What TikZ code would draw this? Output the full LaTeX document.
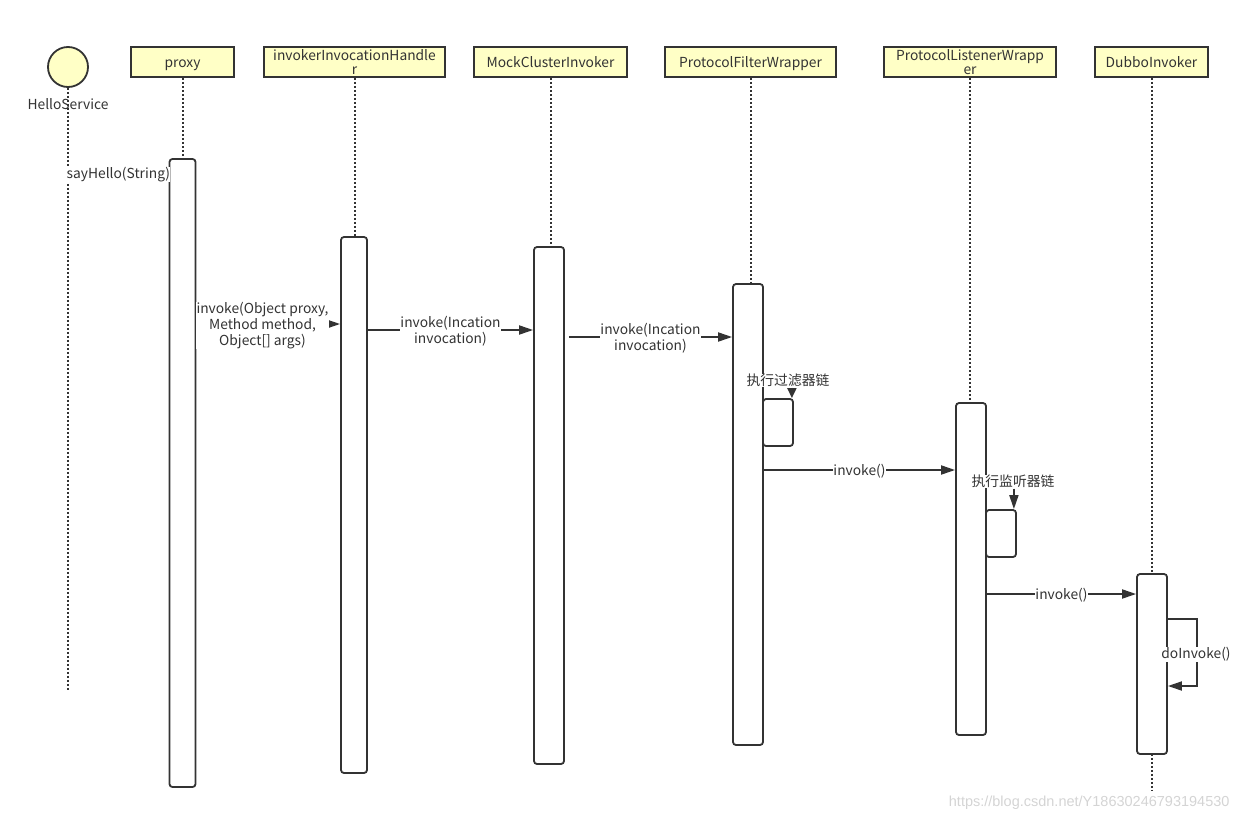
\documentclass[tikz,border=0pt]{standalone}
\usepackage{fontspec}
\setmainfont{Noto Sans CJK SC}
\newfontfamily\markfont{Liberation Sans}
\usepackage{tikz}
\usepackage{xcolor}
\usetikzlibrary{positioning}
\usetikzlibrary{arrows.meta}
\usetikzlibrary{math}
\usetikzlibrary{calc}

\definecolor{umlyellow}{HTML}{FFFFC6}
\definecolor{umlline}{HTML}{333333}
\definecolor{markgray}{HTML}{D4D4D4}

\tikzset{
  objbox/.style={draw=umlline, fill=umlyellow, line width=1.8pt, minimum height=30pt,
    inner sep=0pt, align=center, text=umlline, font=\fontsize{13.8}{14.5}\selectfont},
  oneline/.style={text height=12pt, text depth=1pt},
  lifeline/.style={draw=umlline, line width=2pt, dash pattern=on 2pt off 2pt},
  activation/.style={draw=umlline, fill=white, line width=1.8pt, rounded corners=3pt,
    minimum width=30pt, inner sep=0pt},
  msg/.style={draw=umlline, line width=1.8pt, -{Triangle[length=14pt,width=9pt]}},
  msglabel/.style={fill=white, inner sep=0.5pt, align=center, text=umlline,
    font=\fontsize{13.8}{16}\selectfont, yshift=-1.5pt},
}

\begin{document}
\begin{tikzpicture}[x=1pt,y=-1pt]

  \tikzmath{
    \boxy = 62;  % centre line of the object boxes
  }

  \useasboundingbox (0,0) rectangle (1240,822);

  % objects
  \node[circle, draw=umlline, fill=umlyellow, line width=1.8pt, minimum size=40pt,
    inner sep=0pt] (hello) at (68,67) {};
  \node[text=umlline, font=\fontsize{13.8}{14.5}\selectfont] (helloname) at (68,104) {HelloService};
  \node[objbox, oneline, minimum width=103pt] (proxy) at (182.5,\boxy) {proxy};
  \node[objbox, minimum width=181pt] (handler)  at (354.5,\boxy) {invokerInvocationHandle\\r};
  \node[objbox, oneline, minimum width=153pt] (mock)   at (550.5,\boxy) {MockClusterInvoker};
  \node[objbox, oneline, minimum width=171pt] (filter) at (750.5,\boxy) {ProtocolFilterWrapper};
  \node[objbox, minimum width=172pt] (listener) at (970,\boxy)   {ProtocolListenerWrapp\\er};
  \node[objbox, oneline, minimum width=113pt] (dubbo)  at (1151.5,\boxy) {DubboInvoker};

  % ends of the lifelines
  \coordinate (helloend) at (68,690);
  \coordinate (dubboend) at (1151.5,790);

  \draw[lifeline] (hello.south) -- (helloend);
  \draw[lifeline] (proxy.south) -- ++(0,80);
  \draw[lifeline] (handler.south) -- ++(0,158);
  \draw[lifeline] (mock.south) -- ++(0,168);
  \draw[lifeline] (filter.south) -- ++(0,205);
  \draw[lifeline] (listener.south) -- ++(0,324);
  \draw[lifeline] (dubbo.south) -- (dubboend);

  % activations
  \node[activation, minimum width=26pt, minimum height=628pt] (actproxy)    at (182.5,473) {};
  \node[activation, minimum width=26pt, minimum height=536pt] (acthandler)  at (354,505) {};
  \node[activation, minimum height=517pt] (actmock)     at (549,505.5) {};
  \node[activation, minimum height=461pt] (actfilter)   at (748,514.5) {};
  \node[activation, minimum height=47pt]  (selffilter)  at (778,422.5) {};
  \node[activation, minimum height=332pt] (actlistener) at (971,569) {};
  \node[activation, minimum height=47pt]  (selflistener) at (1001,533.5) {};
  \node[activation, minimum height=180pt] (actdubbo)    at (1152,664) {};

  % messages
  \coordinate (m1) at (0,173);
  \coordinate (m2) at (0,324);
  \coordinate (m3) at (0,330);
  \coordinate (m4) at (0,337);
  \coordinate (m5) at (0,470);
  \coordinate (m6) at (0,594);

  \draw[msg] (helloend |- m1) -- (actproxy.west |- m1)
    node[msglabel, midway] (sayhello) {sayHello(String)};
  \draw[msg] (actproxy.east |- m2) -- (acthandler.west |- m2)
    node[msglabel, pos=0.46] (invoke1) {invoke(Object proxy,\\Method method,\\Object[] args)};
  \draw[msg] (acthandler.east |- m3) -- (actmock.west |- m3)
    node[msglabel, midway] (invoke2) {invoke(Incation\\invocation)};
  \draw[msg] ([xshift=4pt]actmock.east |- m4) -- (actfilter.west |- m4)
    node[msglabel, midway] (invoke3) {invoke(Incation\\invocation)};
  \draw[msg] (actfilter.east |- m5) -- (actlistener.west |- m5)
    node[msglabel, midway] (invoke4) {invoke()};
  \draw[msg] (actlistener.east |- m6) -- (actdubbo.west |- m6)
    node[msglabel, midway] (invoke5) {invoke()};

  % self calls
  \node[msglabel] (chainfilter) at (788,379) {执行过滤器链};
  \coordinate (f1) at ([xshift=-2pt]selffilter.north east);
  \draw[msg, -{Triangle[length=10pt,width=9pt]}] (chainfilter.south -| f1) -- (f1);

  \node[msglabel] (chainlistener) at (1013,480) {执行监听器链};
  \coordinate (l1) at ([xshift=-3pt]selflistener.north east);
  \draw[msg] (chainlistener.south -| l1) -- (l1);

  \coordinate (d1) at (1197,619);
  \coordinate (d2) at (1197,686);
  \draw[msg] (actdubbo.east |- d1) -- (d1) -- (d2) -- (actdubbo.east |- d2);
  \node[msglabel] (doinvoke) at (1196,653) {doInvoke()};

  % watermark
  \node[text=markgray, font=\markfont\fontsize{14.5}{16}\selectfont, anchor=east]
    (mark) at (1233,803) {https://blog.csdn.net/Y18630246793194530};

\end{tikzpicture}
\end{document}
